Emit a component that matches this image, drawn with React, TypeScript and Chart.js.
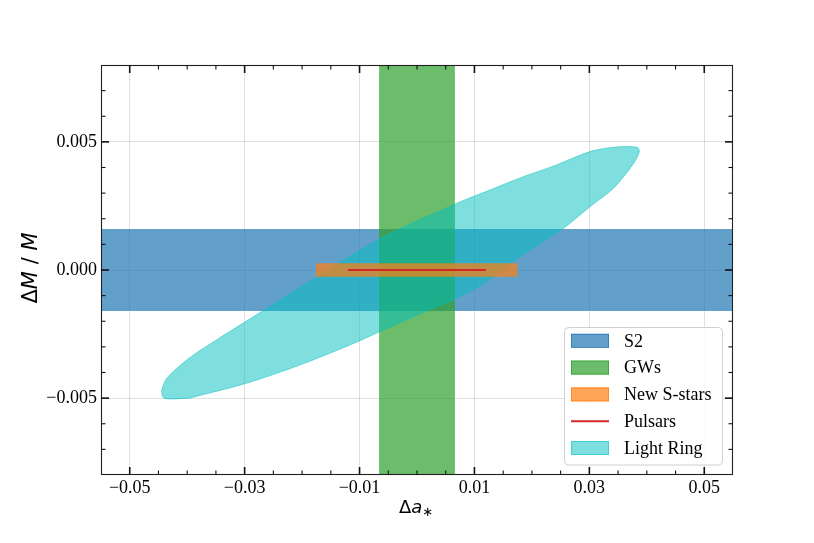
import React, { useEffect, useRef } from "react";
import { Chart, registerables } from "chart.js";
Chart.register(...registerables);

// ---- axes ----
const xLimits = [-0.055, 0.055];
const yLimits = [-0.008, 0.008];
const xMajorTicks = [-0.05, -0.03, -0.01, 0.01, 0.03, 0.05];
const xTickLabels = ["\u22120.05", "\u22120.03", "\u22120.01", "0.01", "0.03", "0.05"];
const xMinorTicks = [-0.045, -0.04, -0.035, -0.025, -0.02, -0.015, -0.005, 0, 0.005, 0.015, 0.02, 0.025, 0.035, 0.04, 0.045];
const yMajorTicks = [-0.005, 0, 0.005];
const yTickLabels = ["\u22120.005", "0.000", "0.005"];
const yMinorTicks = [-0.007, -0.006, -0.004, -0.003, -0.002, -0.001, 0.001, 0.002, 0.003, 0.004, 0.006, 0.007];

// ---- data ----
const s2Range = [-0.0016, 0.0016]; // ΔM/M band
const gwsRange = [-0.0066, 0.0066]; // Δa* band
const newStarsX = [-0.0176, 0.0175];
const newStarsY = [-0.00026, 0.00026];
const pulsarsX = [-0.012, 0.012];
const pulsarsY = [0, 0];
const lightRingX = [
  -0.0396, -0.044, -0.0444, -0.0434, -0.0396, -0.0349, -0.0271, -0.021, -0.0066, 0.0069, 0.0127, 0.0185,
  0.0243, 0.0301, 0.0342, 0.0383, 0.0387, 0.0377, 0.0342, 0.0301, 0.0255, 0.0196, 0.0097, -0.00126, -0.0065,
  -0.0117, -0.0204, -0.0297, -0.0396,
];
const lightRingY = [
  -0.005, -0.005, -0.00468, -0.00419, -0.00343, -0.00273, -0.00163, -0.00078, 0.0012, 0.0026, 0.00312, 0.00364,
  0.0041, 0.00462, 0.00479, 0.00479, 0.00462, 0.00416, 0.00319, 0.00247, 0.00163, 0.00078, -0.00078, -0.00188, -0.00241,
  -0.00293, -0.00371, -0.00442, -0.005,
];
const legendLabels = ["S2", "GWs", "New S-stars", "Pulsars", "Light Ring"];

const rect = (x: number[], y: number[]) => [
  { x: x[0], y: y[0] },
  { x: x[1], y: y[0] },
  { x: x[1], y: y[1] },
  { x: x[0], y: y[1] },
  { x: x[0], y: y[0] },
];

const SERIF = '"Liberation Serif", "Times New Roman", serif';
const SANS = '"DejaVu Sans", sans-serif';

function drawRuns(ctx: CanvasRenderingContext2D, runs: { t: string; f: string; dy?: number }[], cx: number, by: number) {
  let total = 0;
  const widths = runs.map((r) => {
    ctx.font = r.f;
    const w = ctx.measureText(r.t).width;
    total += w;
    return w;
  });
  let x = cx - total / 2;
  ctx.textAlign = "left";
  ctx.textBaseline = "alphabetic";
  runs.forEach((r, i) => {
    ctx.font = r.f;
    ctx.fillText(r.t, x, by + (r.dy || 0));
    x += widths[i];
  });
}

const decor = {
  id: "decor",
  afterDraw(chart: any) {
    const { ctx, chartArea: a, scales } = chart;
    const xs = scales.x;
    const ys = scales.y;
    ctx.save();
    // frame
    ctx.strokeStyle = "#222";
    ctx.lineWidth = 1.1;
    ctx.strokeRect(a.left + 0.5, a.top + 0.5, a.right - a.left - 1, a.bottom - a.top - 1);
    // ticks
    const seg = (x1: number, y1: number, x2: number, y2: number, w: number) => {
      ctx.lineWidth = w;
      ctx.beginPath();
      ctx.moveTo(x1, y1);
      ctx.lineTo(x2, y2);
      ctx.stroke();
    };
    const MAJ = 8;
    const MIN = 4.5;
    ctx.strokeStyle = "#111";
    xMajorTicks.forEach((v) => {
      const p = xs.getPixelForValue(v);
      seg(p, a.bottom, p, a.bottom - MAJ, 1.6);
      seg(p, a.top, p, a.top + MAJ, 1.6);
    });
    xMinorTicks.forEach((v) => {
      const p = xs.getPixelForValue(v);
      seg(p, a.bottom, p, a.bottom - MIN, 1.1);
      seg(p, a.top, p, a.top + MIN, 1.1);
    });
    yMajorTicks.forEach((v) => {
      const p = ys.getPixelForValue(v);
      seg(a.left, p, a.left + MAJ, p, 1.6);
      seg(a.right, p, a.right - MAJ, p, 1.6);
    });
    yMinorTicks.forEach((v) => {
      const p = ys.getPixelForValue(v);
      seg(a.left, p, a.left + MIN, p, 1.1);
      seg(a.right, p, a.right - MIN, p, 1.1);
    });

    // axis titles
    ctx.fillStyle = "#000";
    drawRuns(
      ctx,
      [
        { t: "\u0394", f: `18px ${SANS}` },
        { t: "a", f: `italic 18px ${SANS}` },
        { t: "\u2217", f: `13px ${SANS}`, dy: 3 },
      ],
      (a.left + a.right) / 2 - 1,
      513
    );
    ctx.save();
    ctx.translate(37, 268);
    ctx.rotate(-Math.PI / 2);
    drawRuns(
      ctx,
      [
        { t: "\u0394", f: `21px ${SANS}` },
        { t: "M", f: `italic 21px ${SANS}` },
        { t: " / ", f: `21px ${SANS}` },
        { t: "M", f: `italic 21px ${SANS}` },
      ],
      0,
      0
    );
    ctx.restore();

    // legend
    const lx = 564.5;
    const ly = 327.5;
    const lw = 158;
    const lh = 137.5;
    ctx.beginPath();
    ctx.roundRect(lx, ly, lw, lh, 4);
    ctx.fillStyle = "rgba(255,255,255,0.85)";
    ctx.fill();
    ctx.strokeStyle = "#d0d0d0";
    ctx.lineWidth = 1;
    ctx.stroke();
    legendLabels.forEach((lab, i) => {
      const ds = chart.data.datasets.find((d: any) => d.label === lab);
      const cy = 340.8 + i * 26.8;
      if (ds.legendLine) {
        ctx.strokeStyle = ds.borderColor;
        ctx.lineWidth = 2;
        ctx.beginPath();
        ctx.moveTo(571, cy);
        ctx.lineTo(609, cy);
        ctx.stroke();
      } else {
        ctx.fillStyle = ds.backgroundColor;
        ctx.fillRect(571, cy - 7, 38, 14);
        ctx.strokeStyle = ds.backgroundColor;
        ctx.lineWidth = 1;
        ctx.strokeRect(571.5, cy - 6.5, 37, 13);
      }
      ctx.fillStyle = "#000";
      ctx.font = `18px ${SERIF}`;
      ctx.textAlign = "left";
      ctx.textBaseline = "middle";
      ctx.fillText(lab, 624, cy + 1);
    });
    ctx.restore();
  },
};

export default function App() {
  const ref = useRef<HTMLCanvasElement>(null);
  useEffect(() => {
    const chart = new Chart(ref.current as HTMLCanvasElement, {
      type: "scatter",
      data: {
        datasets: [
          {
            label: "S2",
            data: rect(xLimits, s2Range),
            showLine: true,
            fill: "shape",
            backgroundColor: "rgba(31,119,180,0.7)",
            borderColor: "rgba(31,119,180,0.7)",
            borderWidth: 0,
            pointRadius: 0,
            order: 5,
          } as any,
          {
            label: "GWs",
            data: rect(gwsRange, yLimits),
            showLine: true,
            fill: "shape",
            backgroundColor: "rgba(44,160,44,0.7)",
            borderColor: "rgba(44,160,44,0.7)",
            borderWidth: 0,
            pointRadius: 0,
            order: 4,
          } as any,
          {
            label: "New S-stars",
            data: rect(newStarsX, newStarsY),
            showLine: true,
            fill: "shape",
            backgroundColor: "rgba(255,127,14,0.7)",
            borderColor: "rgba(255,127,14,0.7)",
            borderWidth: 0,
            pointRadius: 0,
            order: 2,
          } as any,
          {
            label: "Pulsars",
            data: pulsarsX.map((x, i) => ({ x, y: pulsarsY[i] })),
            showLine: true,
            fill: false,
            borderColor: "#d62728",
            backgroundColor: "#d62728",
            borderWidth: 2,
            pointRadius: 0,
            order: 1,
            legendLine: true,
          } as any,
          {
            label: "Light Ring",
            data: lightRingX.map((x, i) => ({ x, y: lightRingY[i] })),
            showLine: true,
            fill: "shape",
            tension: 0.3,
            backgroundColor: "rgba(0,191,191,0.5)",
            borderColor: "rgba(0,191,191,0.5)",
            borderWidth: 1,
            pointRadius: 0,
            order: 3,
          } as any,
        ],
      },
      options: {
        responsive: false,
        animation: false,
        events: [],
        layout: { padding: { left: 0, top: 65, right: 81, bottom: 0 } },
        plugins: { legend: { display: false }, tooltip: { enabled: false } },
        scales: {
          x: {
            type: "linear",
            min: xLimits[0],
            max: xLimits[1],
            afterFit: (s: any) => {
              s.height = 68;
            },
            afterBuildTicks: (s: any) => {
              s.ticks = xMajorTicks.map((v) => ({ value: v }));
            },
            border: { display: false },
            grid: { color: "rgba(0,0,0,0.12)", lineWidth: 1, drawTicks: false },
            ticks: {
              autoSkip: false,
              maxRotation: 0,
              padding: 2,
              color: "#000",
              font: { family: SERIF, size: 18 },
              callback: (_v: any, i: number) => xTickLabels[i],
            },
          },
          y: {
            type: "linear",
            min: yLimits[0],
            max: yLimits[1],
            afterFit: (s: any) => {
              s.width = 101;
            },
            afterBuildTicks: (s: any) => {
              s.ticks = yMajorTicks.map((v) => ({ value: v }));
            },
            border: { display: false },
            grid: { color: "rgba(0,0,0,0.12)", lineWidth: 1, drawTicks: false },
            ticks: {
              autoSkip: false,
              padding: 4,
              color: "#000",
              font: { family: SERIF, size: 18 },
              callback: (_v: any, i: number) => yTickLabels[i],
            },
          },
        },
      } as any,
      plugins: [decor],
    });
    return () => chart.destroy();
  }, []);
  return (
    <div style={{ position: "fixed", left: 0, top: 0, width: 814, height: 543, background: "#fff" }}>
      <canvas ref={ref} width={814} height={543} style={{ display: "block" }} />
    </div>
  );
}
